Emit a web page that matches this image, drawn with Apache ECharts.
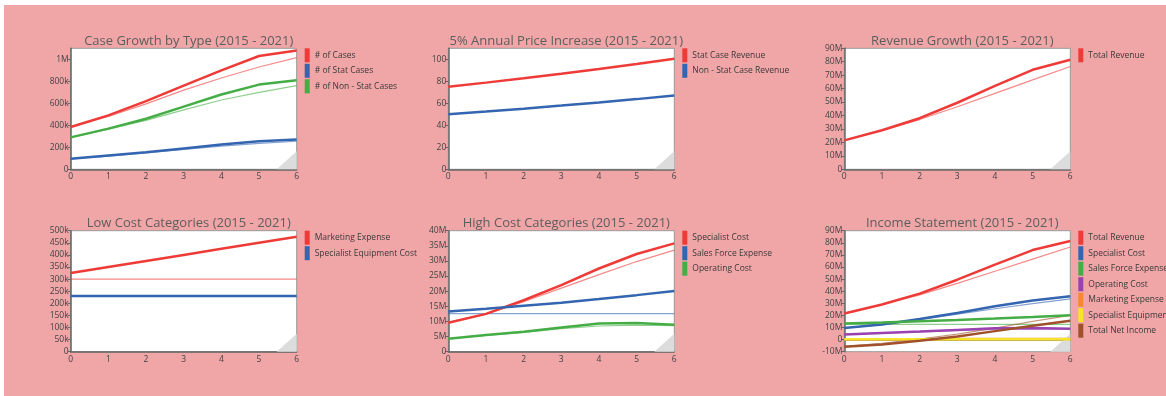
<!DOCTYPE html>
<html>
<head>
<meta charset="utf-8">
<script src="https://cdn.jsdelivr.net/npm/echarts@6/dist/echarts.min.js"></script>
<style>
  html, body { margin: 0; padding: 0; background: #fff; }
  #page { position: relative; width: 1166px; height: 396px; overflow: hidden; }
  #pink { position: absolute; left: 4px; top: 5px; right: 0; bottom: 0; background: #f0a5a7; }
  .cell { position: absolute; }
</style>
</head>
<body>
<div id="page">
  <div id="pink"></div>
</div>
<script>
// x axis = years since 2015
const years = ['0', '1', '2', '3', '4', '5', '6'];

// Case Growth by Type
const casesMain   = [385000, 490000, 620000, 760000, 900000, 1030000, 1080000];
const casesBase   = [385000, 480000, 595000, 720000, 830000, 930000, 1015000];
const statMain    = [95000, 125000, 155000, 190000, 225000, 255000, 270000];
const statBase    = [95000, 120000, 150000, 180000, 210000, 235000, 255000];
const nonStatMain = [290000, 370000, 460000, 570000, 680000, 770000, 810000];
const nonStatBase = [290000, 365000, 445000, 540000, 630000, 700000, 760000];

// 5% Annual Price Increase
const statRevenue    = [75, 78.8, 82.7, 86.8, 91.2, 95.7, 100.5];
const nonStatRevenue = [50, 52.5, 55.1, 57.9, 60.8, 63.8, 67];

// Revenue Growth
const revenueMain = [21.5e6, 29e6, 38e6, 49.5e6, 62e6, 74e6, 81.5e6];
const revenueBase = [21.5e6, 29e6, 37e6, 46.5e6, 56.5e6, 66.5e6, 76.5e6];

// Low Cost Categories
const marketingMain = [325000, 350000, 375000, 400000, 425000, 450000, 475000];
const marketingBase = [300000, 300000, 300000, 300000, 300000, 300000, 300000];
const equipMain     = [230000, 230000, 230000, 230000, 230000, 230000, 230000];
const equipBase     = [228000, 228000, 228000, 228000, 228000, 228000, 228000];

// High Cost Categories
const specialistMain = [9.6e6, 12.5e6, 17e6, 22e6, 27.5e6, 32.3e6, 35.8e6];
const specialistBase = [9.6e6, 12.4e6, 16.5e6, 21e6, 25.5e6, 29.8e6, 33.6e6];
const salesMain      = [13.3e6, 14.2e6, 15.2e6, 16.2e6, 17.4e6, 18.7e6, 20.1e6];
const salesBase      = [12.6e6, 12.6e6, 12.6e6, 12.6e6, 12.6e6, 12.6e6, 12.6e6];
const opMain         = [4.3e6, 5.5e6, 6.6e6, 8e6, 9.3e6, 9.5e6, 8.9e6];
const opBase         = [4.3e6, 5.4e6, 6.4e6, 7.6e6, 8.5e6, 8.8e6, 8.6e6];

// Income Statement
const netMain = [-6e6, -4e6, -1e6, 2.5e6, 7e6, 11.5e6, 15.5e6];
const netBase = [-5.5e6, -3e6, 0.5e6, 4.5e6, 9.5e6, 15e6, 20e6];

const RED = '#ee3b37', BLUE = '#3465b0', GREEN = '#45ad45', PURPLE = '#9a42b0',
      ORANGE = '#f7882f', YELLOW = '#f5e52a', BROWN = '#a0512b';

function fmt(v) {
  if (v === 0) return '0';
  if (Math.abs(v) >= 1e6) return (v / 1e6) + 'M';
  if (Math.abs(v) >= 1e3) return (v / 1e3) + 'k';
  return String(v);
}

const charts = [
  {
    title: 'Case Growth by Type (2015 - 2021)', col: 0, row: 0,
    min: 0, max: 1100000, interval: 200000, hideMax: true,
    series: [
      ['# of Cases', RED, casesMain, casesBase],
      ['# of Stat Cases', BLUE, statMain, statBase],
      ['# of Non - Stat Cases', GREEN, nonStatMain, nonStatBase]
    ]
  },
  {
    title: '5% Annual Price Increase (2015 - 2021)', col: 1, row: 0,
    min: 0, max: 110, interval: 20, hideMax: true,
    series: [
      ['Stat Case Revenue', RED, statRevenue, null],
      ['Non - Stat Case Revenue', BLUE, nonStatRevenue, null]
    ]
  },
  {
    title: 'Revenue Growth (2015 - 2021)', col: 2, row: 0,
    min: 0, max: 90e6, interval: 10e6,
    series: [
      ['Total Revenue', RED, revenueMain, revenueBase]
    ]
  },
  {
    title: 'Low Cost Categories (2015 - 2021)', col: 0, row: 1,
    min: 0, max: 500000, interval: 50000,
    series: [
      ['Marketing Expense', RED, marketingMain, marketingBase],
      ['Specialist Equipment Cost', BLUE, equipMain, equipBase]
    ]
  },
  {
    title: 'High Cost Categories (2015 - 2021)', col: 1, row: 1,
    min: 0, max: 40e6, interval: 5e6,
    series: [
      ['Specialist Cost', RED, specialistMain, specialistBase],
      ['Sales Force Expense', BLUE, salesMain, salesBase],
      ['Operating Cost', GREEN, opMain, opBase]
    ]
  },
  {
    title: 'Income Statement (2015 - 2021)', col: 2, row: 1,
    min: -10e6, max: 90e6, interval: 10e6,
    series: [
      ['Total Revenue', RED, revenueMain, revenueBase],
      ['Specialist Cost', BLUE, specialistMain, specialistBase],
      ['Sales Force Expense', GREEN, salesMain, salesBase],
      ['Operating Cost', PURPLE, opMain, opBase],
      ['Marketing Expense', ORANGE, marketingMain, marketingBase],
      ['Specialist Equipment Cost', YELLOW, equipMain, equipBase],
      ['Total Net Income', BROWN, netMain, netBase]
    ]
  }
];

// page layout of the cells (cells overlap, canvases are transparent)
const cellLeft = [0, 390, 780];
const cellTop = [0, 198], cellHeight = 198;
const gridLeft = [70.7, 448.3, 844.3], gridW = 226;
const gridTop = [48.3, 230.7], gridH = 121;

const page = document.getElementById('page');

charts.forEach(function (c) {
  const div = document.createElement('div');
  div.className = 'cell';
  div.style.left = cellLeft[c.col] + 'px';
  div.style.top = cellTop[c.row] + 'px';
  div.style.width = (1166 - cellLeft[c.col]) + 'px';
  div.style.height = cellHeight + 'px';
  page.appendChild(div);

  const gl = gridLeft[c.col] - cellLeft[c.col];
  const gt = gridTop[c.row] - cellTop[c.row];
  const gr = gl + gridW, gb = gt + gridH;

  const series = [];
  // thin lighter line drawn under each main line
  c.series.forEach(function (s) {
    if (s[3]) {
      series.push({
        name: s[0] + ' base', type: 'line', data: s[3], symbol: 'none',
        lineStyle: { color: s[1], width: 1.2, opacity: 0.6 }, z: 2, silent: true
      });
    }
  });
  c.series.forEach(function (s) {
    series.push({
      name: s[0], type: 'line', data: s[2], symbol: 'none',
      itemStyle: { color: s[1] },
      lineStyle: { color: s[1], width: 2.5 }, z: 3
    });
  });

  const chart = echarts.init(div, null, { renderer: 'canvas' });
  chart.setOption({
    animation: false,
    backgroundColor: 'transparent',
    textStyle: { fontFamily: 'Open Sans' },
    title: {
      text: c.title, left: gl + gridW / 2, top: gt - 19, textAlign: 'center',
      textStyle: { fontSize: 13, fontWeight: 'normal', color: '#5e5e5e', fontFamily: 'Open Sans' }
    },
    legend: {
      orient: 'vertical', left: gr + 3, top: gt - 5, icon: 'rect',
      itemWidth: 5, itemHeight: 14, itemGap: 1.5,
      data: c.series.map(function (s) { return { name: s[0], itemStyle: { color: s[1] } }; }),
      textStyle: { fontSize: 8.5, color: '#3a3a3a', fontFamily: 'Open Sans' }
    },
    grid: {
      left: gl, top: gt, width: gridW, height: gridH,
      show: true, backgroundColor: '#fff', borderColor: '#9a9a9a', borderWidth: 1
    },
    xAxis: {
      type: 'category', data: years, boundaryGap: false,
      axisLine: { lineStyle: { color: '#666', width: 1.5 } },
      axisTick: { show: false },
      axisLabel: { fontSize: 8.5, color: '#444', margin: 3 },
      splitLine: { show: false }
    },
    yAxis: {
      type: 'value', min: c.min, max: c.max, interval: c.interval,
      axisLine: { show: true, lineStyle: { color: '#666', width: 1.5 } },
      axisTick: { show: true, length: 3, lineStyle: { color: '#666' } },
      axisLabel: { fontSize: 8.5, color: '#444', margin: 2, formatter: fmt, showMaxLabel: !c.hideMax },
      splitLine: { show: false }
    },
    graphic: [{
      type: 'polygon', z: 1, silent: true,
      shape: { points: [[gr - 20, gb], [gr, gb - 18], [gr, gb]] },
      style: { fill: '#dcdcdc' }
    }],
    series: series
  });
});
</script>
</body>
</html>
